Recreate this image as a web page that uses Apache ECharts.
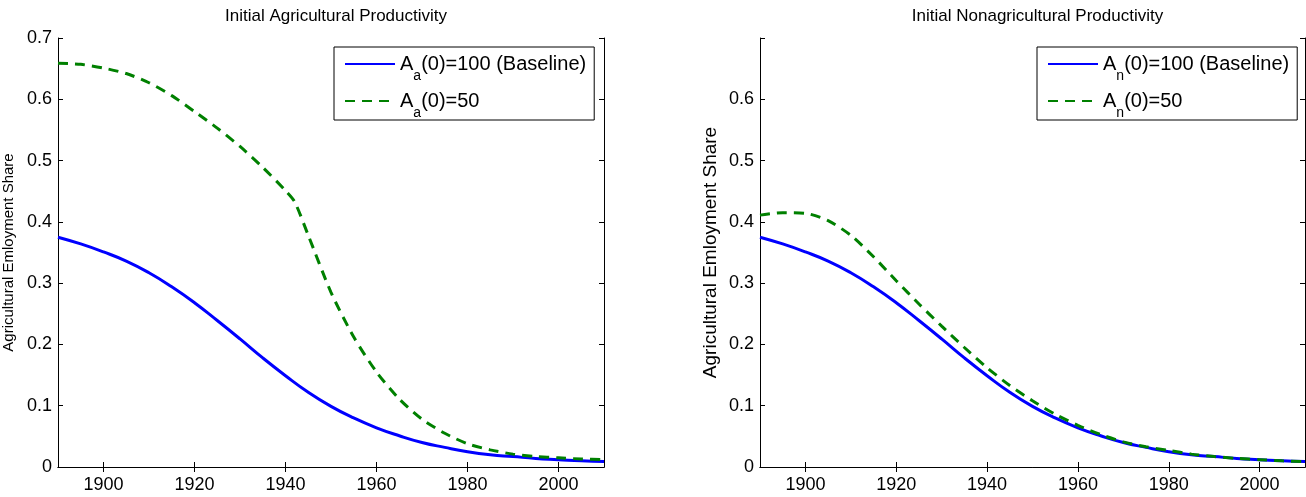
<!DOCTYPE html>
<html><head><meta charset="utf-8">
<script src="https://cdn.jsdelivr.net/npm/echarts@6/dist/echarts.min.js"></script>
<style>html,body{margin:0;padding:0;background:#fff}#c{width:1306px;height:497px}</style>
</head><body><div id="c"></div>
<script>
const years = [1890,1895,1900,1905,1910,1915,1920,1925,1930,1935,1940,1945,1950,1955,1960,1965,1970,1975,1980,1985,1990,1995,2000,2005,2010];
const baseline = [0.375,0.364,0.351,0.336,0.317,0.294,0.268,0.239,0.209,0.178,0.149,0.122,0.099,0.080,0.064,0.051,0.040,0.032,0.025,0.020,0.017,0.014,0.012,0.010,0.009];
const yearsAgLow = [1890,1895,1900,1905,1910,1915,1920,1925,1930,1935,1940,1942,1945,1950,1955,1960,1965,1970,1975,1980,1985,1990,1995,2000,2005,2010];
const agLow = [0.659,0.657,0.651,0.642,0.627,0.606,0.580,0.553,0.523,0.489,0.451,0.433,0.378,0.285,0.212,0.155,0.111,0.078,0.055,0.038,0.028,0.021,0.017,0.015,0.013,0.012];
const nonagLow = [0.411,0.415,0.414,0.402,0.378,0.343,0.304,0.266,0.230,0.195,0.162,0.133,0.108,0.086,0.068,0.053,0.041,0.033,0.027,0.021,0.017,0.014,0.012,0.010,0.009];
const xTicks = [1900,1920,1940,1960,1980,2000];
const yTicks = [0,0.1,0.2,0.3,0.4,0.5,0.6,0.7];
const titles = ['Initial Agricultural Productivity','Initial Nonagricultural Productivity'];
const yName = 'Agricultural Emloyment Share';
const names = [['A_a(0)=100 (Baseline)','A_a(0)=50'],['A_n(0)=100 (Baseline)','A_n(0)=50']];

const FONT = 'Liberation Sans, Arial, sans-serif';
const pair = (xs, ys) => xs.map((x,i)=>[x, ys[i]]);
const grids = [{left:58, top:38, width:546, height:429},{left:760, top:38, width:545, height:429}];
const xAxes = [], yAxes = [], series = [], legends = [], titleArr = [];
grids.forEach((g,i)=>{
  const common = {min:1890, max:2010, gridIndex:i, splitLine:{show:false},
    axisLine:{show:true, lineStyle:{color:'#000', width:1}}};
  xAxes.push(Object.assign({type:'value', position:'bottom',
    axisTick:{show:true, inside:true, length:5, customValues:xTicks, lineStyle:{color:'#000'}},
    axisLabel:{show:true, customValues:xTicks, color:'#000', fontSize:18, fontFamily:FONT, margin:9,
      formatter: v => String(v)}}, common));
  xAxes.push(Object.assign({type:'value', position:'top',
    axisTick:{show:true, inside:true, length:5, customValues:xTicks, lineStyle:{color:'#000'}},
    axisLabel:{show:false}}, common));
  const yc = {type:'value', min:0, max:0.7, gridIndex:i, splitLine:{show:false},
    axisLine:{show:true, lineStyle:{color:'#000', width:1}}};
  yAxes.push(Object.assign({position:'left', name:yName, nameLocation:'middle',
    nameGap: i===0 ? 42 : 40, nameTextStyle:{color:'#000', fontSize: i===0 ? 15 : 19, fontFamily:FONT},
    axisTick:{show:true, inside:true, length:5, customValues:yTicks, lineStyle:{color:'#000'}},
    axisLabel:{show:true, customValues:yTicks, color:'#000', fontSize:18, fontFamily:FONT, margin:6,
      formatter: v => (i===1 && v>=0.7) ? '' : String(v)}}, yc));
  yAxes.push(Object.assign({position:'right',
    axisTick:{show:true, inside:true, length:5, customValues:yTicks, lineStyle:{color:'#000'}},
    axisLabel:{show:false}}, yc));
  titleArr.push({text:titles[i], left:g.left + g.width/2, top:3, textAlign:'center',
    textStyle:{fontSize:17, fontWeight:'normal', color:'#000', fontFamily:FONT}});
  const greenData = i===0 ? pair(yearsAgLow, agLow) : pair(years, nonagLow);
  series.push({type:'line', name:names[i][0], xAxisIndex:2*i, yAxisIndex:2*i, data:pair(years, baseline),
    symbol:'none', smooth:0.5, lineStyle:{color:'#0000ff', width:3}, itemStyle:{color:'#0000ff'}, z:2});
  series.push({type:'line', name:names[i][1], xAxisIndex:2*i, yAxisIndex:2*i, data:greenData,
    symbol:'none', smooth:0.25, lineStyle:{color:'#008000', width:3, type:[10,7]}, itemStyle:{color:'#008000'}, z:3});
  legends.push({data:names[i], orient:'vertical', left: i===0 ? 334 : 1037, top:47,
    width: i===0 ? 258 : 260, itemWidth:50, itemHeight:14, itemGap:8, padding:[7,8,0,10],
    borderColor:'#000', borderWidth:1, backgroundColor:'#fff', selectedMode:false,
    itemStyle:{opacity:0},
    formatter: n => { const m = n.match(/^A_(\w)(.*)$/); return '{a|A}{s|'+m[1]+'}{a|'+m[2]+'}'; },
    textStyle:{color:'#000', fontFamily:FONT, fontSize:20,
      rich:{a:{fontSize:20, fontFamily:FONT, color:'#000'}, s:{fontSize:14, fontFamily:FONT, color:'#000', verticalAlign:'bottom', padding:[0,0,-9,0]}}}});
});
const chart = echarts.init(document.getElementById('c'), null, {renderer:'canvas'});
chart.setOption({animation:false, backgroundColor:'#fff', title:titleArr, grid:grids, xAxis:xAxes, yAxis:yAxes, legend:legends, series});
</script></body></html>
